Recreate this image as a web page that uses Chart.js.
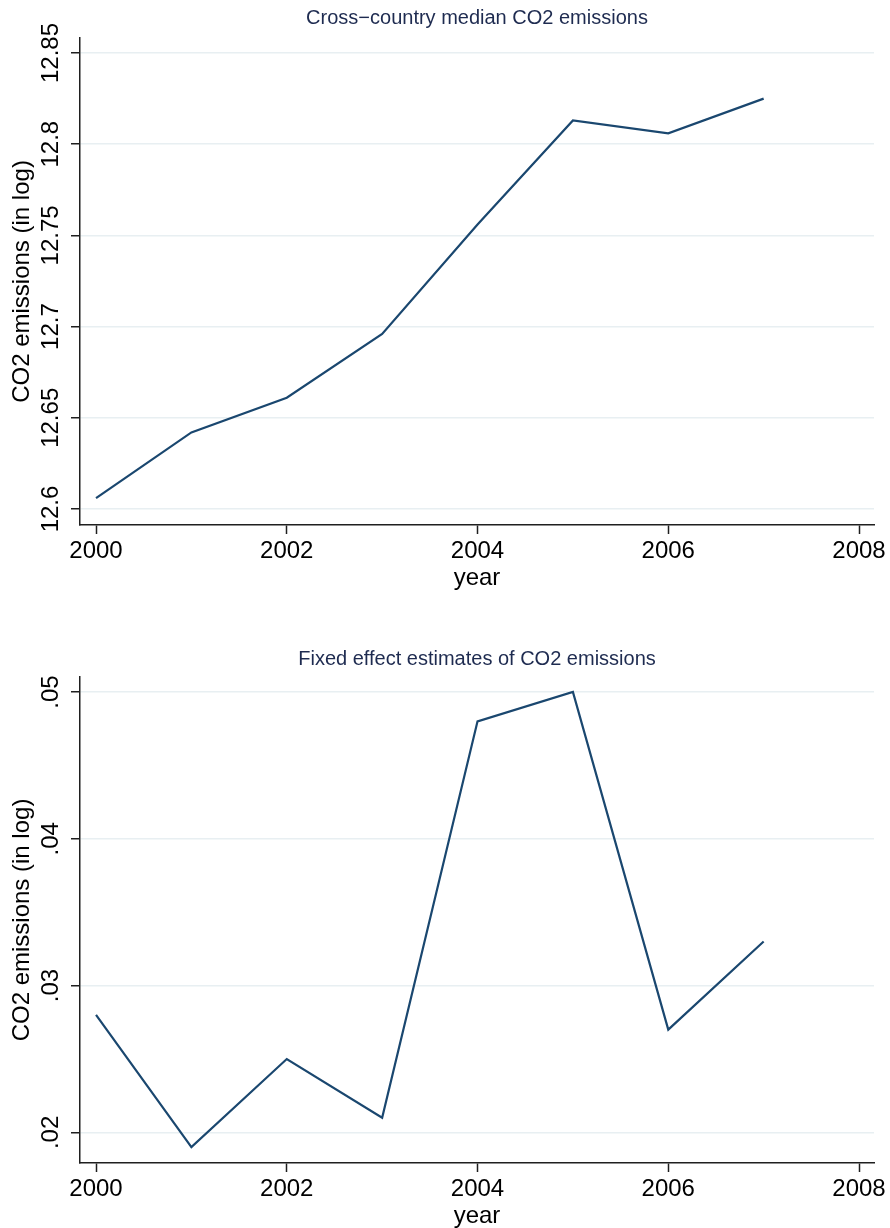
<!DOCTYPE html>
<html>
<head>
<meta charset="utf-8">
<script src="https://cdn.jsdelivr.net/npm/chart.js@4.4.1/dist/chart.umd.min.js"></script>
<style>
  html, body { margin: 0; padding: 0; background: #ffffff; }
  #wrap { position: relative; width: 890px; height: 1228px; }
  canvas { position: absolute; left: 0; }
</style>
</head>
<body>
<div id="wrap">
  <canvas id="c1" width="890" height="614" style="top:0px"></canvas>
  <canvas id="c2" width="890" height="614" style="top:614px"></canvas>
</div>
<script>
// ---- data ----
const years = [2000, 2001, 2002, 2003, 2004, 2005, 2006, 2007];
const medianCO2 = [12.606, 12.642, 12.661, 12.696, 12.756, 12.813, 12.806, 12.825];
const fixedEffects = [0.028, 0.019, 0.025, 0.021, 0.048, 0.050, 0.027, 0.033];
const xTickValues = [2000, 2002, 2004, 2006, 2008];
const yTicksTop = [12.6, 12.65, 12.7, 12.75, 12.8, 12.85];
const yTickLabelsTop = ['12.6', '12.65', '12.7', '12.75', '12.8', '12.85'];
const yTicksBottom = [0.02, 0.03, 0.04, 0.05];
const yTickLabelsBottom = ['.02', '.03', '.04', '.05'];
const titleTop = 'Cross\u2212country median CO2 emissions';
const titleBottom = 'Fixed effect estimates of CO2 emissions';
const yAxisTitle = 'CO2 emissions (in log)';
const xAxisTitle = 'year';

const FONT = '"Liberation Sans", Arial, Helvetica, sans-serif';
const LINE_COLOR = '#1a476f';
const GRID_COLOR = '#e8eff2';
const AXIS_COLOR = '#1f1f1f';
const TITLE_COLOR = '#1e2b50';

const textPlugin = {
  id: 'stataText',
  afterDraw(chart, args, opts) {
    const ctx = chart.ctx;
    const xs = chart.scales.x, ys = chart.scales.y;
    const ca = chart.chartArea;
    const cx = (ca.left + ca.right) / 2;
    ctx.save();
    ctx.textAlign = 'center';
    ctx.textBaseline = 'middle';
    // title
    ctx.fillStyle = TITLE_COLOR;
    ctx.font = '20px ' + FONT;
    ctx.fillText(opts.title, cx, opts.titleY);
    // x tick labels
    ctx.fillStyle = '#000000';
    ctx.font = '24px ' + FONT;
    xTickValues.forEach(v => {
      ctx.fillText(String(v), xs.getPixelForValue(v), ca.bottom + 26);
    });
    // x title
    ctx.fillText(xAxisTitle, cx, ca.bottom + 53);
    // y tick labels (rotated)
    opts.yTicks.forEach((v, i) => {
      const py = ys.getPixelForValue(v);
      ctx.save();
      ctx.translate(51, py);
      ctx.rotate(-Math.PI / 2);
      ctx.fillText(opts.yLabels[i], 0, 0);
      ctx.restore();
    });
    // y title
    ctx.save();
    ctx.translate(22, (ca.top + ca.bottom) / 2);
    ctx.rotate(-Math.PI / 2);
    ctx.fillText(yAxisTitle, 0, 0);
    ctx.restore();
    ctx.restore();
  }
};

function makeChart(id, values, yMin, yMax, yTicks, yLabels, title, titleY, padTop, xHeight) {
  return new Chart(document.getElementById(id), {
    type: 'line',
    data: {
      datasets: [{
        data: years.map((yr, i) => ({ x: yr, y: values[i] })),
        borderColor: LINE_COLOR,
        borderWidth: 2.2,
        pointRadius: 0,
        tension: 0,
        fill: false
      }]
    },
    options: {
      responsive: false,
      animation: false,
      devicePixelRatio: 1,
      layout: { padding: { top: padTop, right: 16, bottom: 0, left: 0 } },
      plugins: {
        legend: { display: false },
        tooltip: { enabled: false },
        title: { display: false },
        stataText: { title: title, titleY: titleY, yTicks: yTicks, yLabels: yLabels }
      },
      scales: {
        x: {
          type: 'linear',
          min: 1999.832,
          max: 2008.157,
          afterBuildTicks: s => { s.ticks = xTickValues.map(v => ({ value: v })); },
          afterFit: s => { s.height = xHeight; },
          ticks: { display: false },
          grid: { display: true, drawOnChartArea: false, drawTicks: true, tickLength: 9, tickColor: AXIS_COLOR, tickWidth: 1.5 },
          border: { display: true, color: AXIS_COLOR, width: 1.5 }
        },
        y: {
          type: 'linear',
          min: yMin,
          max: yMax,
          afterBuildTicks: s => { s.ticks = yTicks.map(v => ({ value: v })); },
          afterFit: s => { s.width = 80; },
          ticks: { display: false },
          grid: { display: true, drawOnChartArea: true, color: GRID_COLOR, lineWidth: 1.5, drawTicks: true, tickLength: 9, tickColor: AXIS_COLOR, tickWidth: 1.5 },
          border: { display: true, color: AXIS_COLOR, width: 1.5 }
        }
      }
    },
    plugins: [textPlugin]
  });
}

makeChart('c1', medianCO2, 12.59123, 12.85823, yTicksTop, yTickLabelsTop, titleTop, 18, 38, 89);
makeChart('c2', fixedEffects, 0.017916, 0.051022, yTicksBottom, yTickLabelsBottom, titleBottom, 45, 63, 65);
</script>
</body>
</html>
